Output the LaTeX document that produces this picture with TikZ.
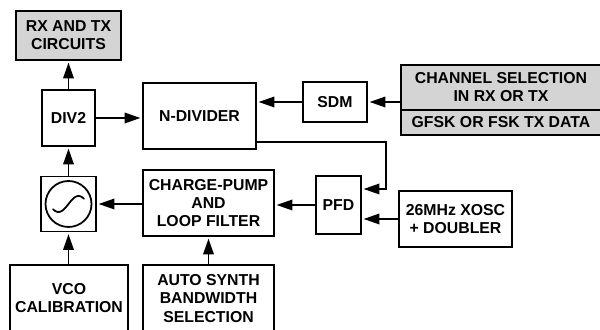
\documentclass[tikz,border=0pt]{standalone}
\usepackage{fontspec}
\setmainfont{Liberation Sans}
\usetikzlibrary{arrows.meta}

\tikzset{
  block/.style={draw, line width=1pt, fill=white, align=center, inner sep=0pt,
    font=\fontsize{9}{10.3}\selectfont\bfseries},
  shaded/.style={block, fill=black!17},
  flow/.style={line width=1pt, -{Triangle[length=9pt,width=6pt]}, shorten >=1pt},
}

\begin{document}
\begin{tikzpicture}[x=0.02cm, y=-0.02cm]
      \useasboundingbox (0,0) rectangle (600,330);
      % upper row
      \node[shaded, minimum width=2.1cm, minimum height=0.98cm] (rxtx) at (68.5,35.5) {RX AND TX\\CIRCUITS};
      \node[block, minimum width=1.06cm, minimum height=1.12cm] (div2) at (68.5,118) {DIV2};
      \node[block, minimum width=2.26cm, minimum height=1.32cm] (ndiv) at (199.5,116) {N-DIVIDER};
      \node[block, minimum width=1.28cm, minimum height=0.8cm] (sdm) at (335,102) {SDM};
      \node[shaded, minimum width=4cm, minimum height=0.9cm] (chan) at (501,87.5) {CHANNEL SELECTION\\IN RX OR TX};
      \node[shaded, minimum width=4cm, minimum height=0.5cm] (gfsk) at (501,122.5) {GFSK OR FSK TX DATA};
      % lower row
      \node[block, minimum width=1.1cm, minimum height=1.1cm] (vco) at (68.5,204) {};
      \node[draw, circle, line width=1pt, minimum size=0.92cm, inner sep=0pt] (osc) at (68.5,204) {};
      \node[block, minimum width=2.62cm, minimum height=1.32cm] (pump) at (208.5,203) {CHARGE-PUMP\\AND\\LOOP FILTER};
      \node[block, minimum width=0.9cm, minimum height=1.16cm] (pfd) at (338.5,205) {PFD};
      \node[block, minimum width=2.26cm, minimum height=1.12cm] (xosc) at (455.5,219) {26MHz XOSC\\+ DOUBLER};
      \node[block, minimum width=2.36cm, minimum height=1.34cm] (vcocal) at (69,298.5) {VCO\\CALIBRATION};
      \node[block, minimum width=2.62cm, minimum height=1.34cm] (auto) at (208.5,298.5) {AUTO SYNTH\\BANDWIDTH\\SELECTION};
      \coordinate (turn) at (386,142);
      \draw[line width=1pt, line cap=round] plot[domain=-15.5:15.5, samples=40] ({68.5+\x}, {204-8*sin(9*\x)});
      \draw[flow] (div2) -- (rxtx);
      \draw[flow] (vco) -- (div2);
      \draw[flow] (div2) -- (div2 -| ndiv.west);
      \draw[flow] (sdm) -- (sdm -| ndiv.east);
      \draw[flow] (chan.west |- sdm) -- (sdm);
      \draw[flow] (ndiv.south east |- turn) -- (turn) |- ([yshift=0.32cm]pfd.east);
      \draw[flow] (xosc) -- (xosc -| pfd.east);
      \draw[flow] (pfd) -- (pfd -| pump.east);
      \draw[flow] (pump.west |- vco) -- (vco);
      \draw[flow] (vcocal.north -| vco) -- (vco);
      \draw[flow] (auto) -- (pump);
\end{tikzpicture}
\end{document}
